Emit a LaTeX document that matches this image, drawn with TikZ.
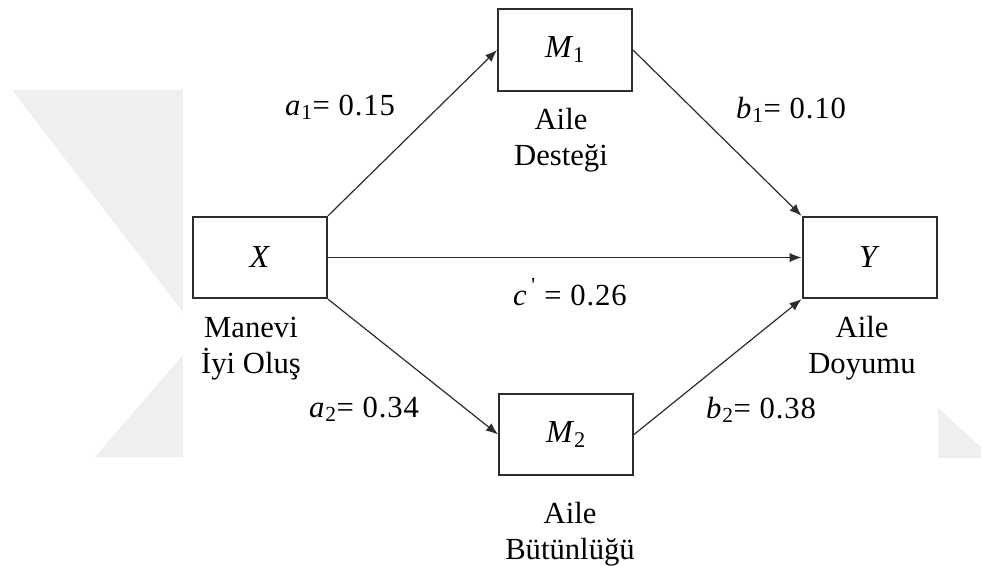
\documentclass[tikz,border=0pt]{standalone}
\usepackage{fontspec}
\setmainfont{Liberation Serif}
\usetikzlibrary{arrows.meta}
\definecolor{wm}{RGB}{239,239,239}
\definecolor{ink}{RGB}{45,45,45}
\begin{document}
\begin{tikzpicture}[x=0.75pt,y=-0.75pt,
  varbox/.style={draw=ink, line width=1.5pt, fill=white,
    minimum width=100.5pt, minimum height=61pt, inner sep=0pt,
    font=\fontsize{24}{28}\selectfont},
  effect/.style={draw=ink, line width=0.9pt, -{Latex[length=9pt,width=7pt]}},
  caption/.style={align=center, inner sep=0pt, font=\fontsize{23}{27}\selectfont},
  coef/.style={inner sep=0pt, font=\fontsize{23}{27}\selectfont\addfontfeatures{LetterSpace=3}}]

% page and faint background mark
\useasboundingbox (0,0) rectangle (981,565);
\fill[white] (0,0) rectangle (981,565);
\fill[wm] (12,90) -- (183,90) -- (183,312) -- cycle;
\fill[wm] (95,457) -- (183,457) -- (183,355) -- cycle;
\fill[wm] (938,408) -- (981,447) -- (981,458) -- (938,458) -- cycle;
\fill[white] (183,0) rectangle (938,565);

% variables
\node[varbox] (X)  at (260,257.5) {\textit{X}};
\node[varbox] (M1) at (565,50)    {\textit{M}\textsubscript{1}};
\node[varbox] (M2) at (566,434.5) {\textit{M}\textsubscript{2}};
\node[varbox] (Y)  at (869.5,257.5) {\textit{Y}};

% captions (anchored on the baseline of their last line)
\node[caption, anchor=base] (capX)  at (251,373) {Manevi\\İyi Oluş};
\node[caption, anchor=base] (capM1) at (561,165) {Aile\\Desteği};
\node[caption, anchor=base] (capY)  at (862,373) {Aile\\Doyumu};
\node[caption, anchor=base] (capM2) at (570,559) {Aile\\Bütünlüğü};

% paths
\draw[effect] (X.north east) -- (M1.west);
\draw[effect] (M1.east) -- (Y.north west);
\draw[effect] (X.east) -- (Y.west);
\draw[effect] (X.south east) -- (M2.west);
\draw[effect] (M2.east) -- (Y.south west);

% coefficients
\node[coef, anchor=base] (a1) at (340,115) {\textit{a}\textsubscript{1}= 0.15};
\node[coef, anchor=base] (b1) at (791,118) {\textit{b}\textsubscript{1}= 0.10};
\node[coef, anchor=base] (cp) at (570,305) {\textit{c}\textsuperscript{\,\textquotesingle} = 0.26};
\node[coef, anchor=base] (a2) at (364,417) {\textit{a}\textsubscript{2}= 0.34};
\node[coef, anchor=base] (b2) at (761,418) {\textit{b}\textsubscript{2}= 0.38};
\end{tikzpicture}
\end{document}
